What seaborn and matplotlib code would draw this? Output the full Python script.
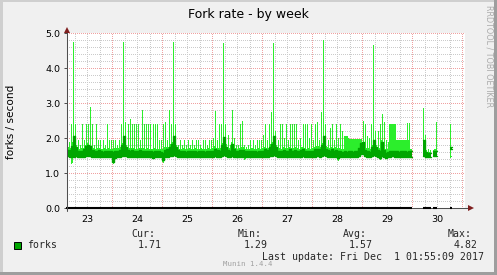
import numpy as np
import pandas as pd
import matplotlib
matplotlib.use("Agg")
import matplotlib.pyplot as plt
from matplotlib.patches import Rectangle
import seaborn as sns

sns.set_theme(style="white")
plt.rcParams["font.family"] = ["DejaVu Sans"]

N = float("nan")

# ---- data (hourly) ----
days = [23, 24, 25, 26, 27, 28, 29, 30]
first_hour = [2, 0, 0, 0, 0, 0, 0, 0]

# spike tops (max)
rate_max = [
    [2.40, 1.90, 2.40, 4.75, 2.40, 1.95, 1.80, 2.40, 1.95, 2.40, 2.40, 2.90, 2.40, 1.80, 2.40, 1.95, 1.95, 1.95, 1.80, 2.40, 1.95, 1.95],
    [1.95, 1.95, 1.80, 1.95, 2.40, 4.75, 2.45, 2.40, 2.55, 2.40, 2.40, 2.40, 2.40, 1.95, 2.80, 2.40, 2.40, 2.40, 2.40, 2.40, 2.40, 2.40, 1.95, 1.95],
    [2.40, 2.45, 1.95, 2.80, 2.40, 4.75, 2.40, 1.80, 1.95, 1.80, 1.95, 1.80, 1.95, 1.80, 1.95, 1.80, 1.95, 1.95, 1.80, 1.95, 1.95, 1.80, 1.95, 1.95],
    [2.00, 2.77, 1.95, 2.40, 2.40, 4.73, 2.40, 2.10, 1.80, 2.80, 2.00, 1.80, 1.80, 2.40, 2.50, 1.80, 1.75, 1.80, 1.95, 1.95, 1.80, 1.95, 1.95, 1.95],
    [2.10, 2.40, 1.95, 2.40, 2.75, 4.72, 2.20, 1.95, 2.40, 2.40, 2.00, 2.40, 1.95, 2.40, 2.40, 2.40, 2.40, 1.95, 2.00, 2.40, 2.40, 2.40, 2.00, 2.40],
    [1.95, 2.40, 2.45, 1.95, 2.75, 4.82, 2.40, 1.95, 2.30, 2.40, 1.95, 2.40, 2.00, 2.40, 2.20, 2.05, 2.05, 2.00, 1.97, 1.97, 1.97, 1.97, 1.97, 1.97],
    [2.50, 2.40, 2.05, 2.00, 2.40, 4.66, 2.20, 2.20, 2.40, 2.70, 2.45, 1.95, 1.90, 2.40, 2.40, 2.40, 1.95, 1.94, 1.94, 1.94, 1.94, 2.43, 2.43, 1.70],
    [N, N, N, N, N, 2.85, 2.10, 1.70, 1.65, N, 1.70, 2.45, N, N, N, N, N, N, 2.40, N],
]

# solid light-green envelope top
rate_env = [
    [1.75, 1.72, 1.90, 1.95, 1.80, 1.72, 1.70, 1.72, 1.72, 1.80, 1.85, 1.80, 1.72, 1.70, 1.72, 1.72, 1.70, 1.70, 1.72, 1.70, 1.72, 1.70],
    [1.70, 1.72, 1.72, 1.75, 1.85, 2.00, 1.80, 1.72, 1.72, 1.72, 1.72, 1.70, 1.70, 1.72, 1.72, 1.70, 1.72, 1.70, 1.70, 1.70, 1.72, 1.70, 1.70, 1.70],
    [1.70, 1.75, 1.75, 1.82, 1.88, 2.00, 1.80, 1.72, 1.70, 1.70, 1.72, 1.70, 1.70, 1.72, 1.70, 1.72, 1.70, 1.70, 1.72, 1.70, 1.70, 1.70, 1.72, 1.70],
    [1.72, 1.78, 1.72, 1.72, 1.85, 2.00, 1.82, 1.72, 1.72, 1.88, 1.75, 1.72, 1.70, 1.72, 1.75, 1.70, 1.70, 1.70, 1.72, 1.72, 1.70, 1.70, 1.72, 1.70],
    [1.72, 1.75, 1.72, 1.82, 1.88, 2.00, 1.80, 1.72, 1.72, 1.70, 1.75, 1.72, 1.72, 1.75, 1.72, 1.75, 1.72, 1.70, 1.75, 1.75, 1.72, 1.70, 1.72, 1.70],
    [1.72, 1.75, 1.78, 1.75, 1.85, 2.00, 1.78, 1.75, 1.72, 1.75, 1.72, 1.75, 1.72, 1.72, 1.70, 2.05, 2.05, 1.97, 1.97, 1.97, 1.97, 1.97, 1.97, 1.97],
    [1.85, 1.75, 1.72, 1.70, 1.80, 1.95, 1.80, 1.75, 1.72, 1.95, 1.75, 1.70, 1.70, 2.40, 2.40, 2.40, 1.94, 1.94, 1.94, 1.94, 1.94, 1.94, 1.94, 1.70],
    [N, N, N, N, N, 1.94, 1.65, 1.60, 1.60, N, 1.65, 1.70, N, N, N, N, N, N, 1.50, N],
]

# dark-green average band (top / bottom)
avg_hi = [
    [1.65, 1.66, 1.78, 2.06, 1.74, 1.63, 1.62, 1.64, 1.68, 1.77, 1.80, 1.77, 1.65, 1.62, 1.63, 1.65, 1.62, 1.61, 1.63, 1.62, 1.64, 1.62],
    [1.60, 1.62, 1.63, 1.67, 1.80, 2.06, 1.76, 1.65, 1.63, 1.67, 1.64, 1.63, 1.62, 1.65, 1.63, 1.62, 1.64, 1.63, 1.62, 1.61, 1.63, 1.62, 1.62, 1.61],
    [1.58, 1.65, 1.68, 1.76, 1.84, 2.06, 1.75, 1.65, 1.62, 1.62, 1.63, 1.61, 1.62, 1.63, 1.62, 1.63, 1.61, 1.62, 1.63, 1.62, 1.61, 1.62, 1.63, 1.62],
    [1.63, 1.70, 1.66, 1.64, 1.80, 2.04, 1.76, 1.66, 1.64, 1.84, 1.68, 1.63, 1.62, 1.65, 1.66, 1.63, 1.62, 1.62, 1.63, 1.64, 1.62, 1.61, 1.63, 1.62],
    [1.63, 1.68, 1.66, 1.76, 1.82, 2.05, 1.75, 1.64, 1.63, 1.62, 1.66, 1.64, 1.63, 1.68, 1.64, 1.66, 1.63, 1.62, 1.66, 1.68, 1.64, 1.62, 1.63, 1.62],
    [1.62, 1.68, 1.70, 1.68, 1.80, 2.06, 1.70, 1.66, 1.64, 1.68, 1.63, 1.66, 1.64, 1.63, 1.61, 1.62, 1.61, 1.62, 1.63, 1.61, 1.62, 1.64, 1.72, 1.85],
    [1.88, 1.66, 1.62, 1.61, 1.75, 1.95, 1.75, 1.66, 1.64, 1.90, 1.66, 1.58, 1.61, 1.62, 1.64, 1.62, 1.63, 1.61, 1.62, 1.64, 1.62, 1.61, 1.64, 1.62],
    [N, N, N, N, N, 1.94, 1.60, 1.58, 1.58, N, 1.62, 1.64, N, N, N, N, N, N, 1.75, N],
]
avg_lo = [
    [1.48, 1.46, 1.45, 1.47, 1.48, 1.47, 1.46, 1.45, 1.47, 1.48, 1.50, 1.48, 1.47, 1.46, 1.45, 1.47, 1.46, 1.45, 1.46, 1.47, 1.46, 1.45],
    [1.33, 1.44, 1.46, 1.47, 1.48, 1.50, 1.48, 1.46, 1.45, 1.47, 1.46, 1.45, 1.46, 1.47, 1.45, 1.46, 1.45, 1.46, 1.45, 1.44, 1.46, 1.45, 1.46, 1.45],
    [1.38, 1.46, 1.47, 1.48, 1.50, 1.52, 1.48, 1.46, 1.45, 1.46, 1.45, 1.46, 1.45, 1.46, 1.45, 1.46, 1.45, 1.46, 1.45, 1.46, 1.45, 1.45, 1.46, 1.45],
    [1.46, 1.48, 1.47, 1.46, 1.50, 1.52, 1.48, 1.46, 1.46, 1.50, 1.47, 1.46, 1.45, 1.46, 1.47, 1.46, 1.45, 1.46, 1.45, 1.46, 1.45, 1.45, 1.46, 1.45],
    [1.46, 1.47, 1.46, 1.48, 1.50, 1.52, 1.48, 1.46, 1.46, 1.45, 1.47, 1.46, 1.45, 1.47, 1.46, 1.47, 1.46, 1.45, 1.47, 1.48, 1.46, 1.45, 1.46, 1.45],
    [1.45, 1.47, 1.48, 1.47, 1.50, 1.52, 1.48, 1.47, 1.46, 1.47, 1.45, 1.47, 1.42, 1.46, 1.45, 1.46, 1.45, 1.46, 1.47, 1.45, 1.46, 1.47, 1.50, 1.55],
    [1.55, 1.48, 1.46, 1.45, 1.48, 1.52, 1.50, 1.47, 1.44, 1.50, 1.47, 1.44, 1.46, 1.47, 1.48, 1.46, 1.47, 1.45, 1.46, 1.47, 1.46, 1.45, 1.47, 1.46],
    [N, N, N, N, N, 1.50, 1.47, 1.46, 1.46, N, 1.48, 1.50, N, N, N, N, N, N, 1.69, N],
]

# light-green dips below the band (minimum)
dip_day = [23, 24, 25, 26, 28, 29, 30, 30]
dip_hour = [4, 0, 0, 15, 12, 8, 7, 18]
dip_value = [1.29, 1.30, 1.31, 1.40, 1.38, 1.40, 1.45, 1.47]

day_labels = ["23", "24", "25", "26", "27", "28", "29", "30"]
y_ticks = [0, 1, 2, 3, 4, 5]

title = "Fork rate - by week"
y_label = "forks / second"
legend_name = "forks"
stat_names = ["Cur:", "Min:", "Avg:", "Max:"]
stat_values = ["1.71", "1.29", "1.57", "4.82"]
last_update = "Last update: Fri Dec  1 01:55:09 2017"

# ---- build table ----
rows = []
for i, d in enumerate(days):
    for j in range(len(rate_max[i])):
        rows.append(dict(day=d, hour=first_hour[i] + j, mx=rate_max[i][j],
                         env=rate_env[i][j], hi=avg_hi[i][j], lo=avg_lo[i][j]))
df = pd.DataFrame(rows)
df["bottom"] = df["lo"]
for d, h, v in zip(dip_day, dip_hour, dip_value):
    m = (df.day == d) & (df.hour == h)
    df.loc[m, "bottom"] = np.minimum(df.loc[m, "lo"], v)
df = df.dropna(subset=["mx"]).reset_index(drop=True)
df["idx"] = (df.day - 23) * 24 + df.hour
df["t"] = df.day + df.hour / 24.0
df["run"] = (df.idx.diff() != 1).cumsum()

# ---- figure ----
W, H = 497, 275
fig = plt.figure(figsize=(W / 100, H / 100), dpi=100)
fig.patch.set_facecolor("#F0F0F0")
L, R, T, B = 67, 465, 33.3, 208
ax = fig.add_axes([L / W, 1 - B / H, (R - L) / W, (B - T) / H])
ax.set_facecolor("white")
x0 = 23 + (L - 62.3) / 50
x1 = 23 + (R - 62.3) / 50
ax.set_xlim(x0, x1)
ax.set_ylim(0, 5)
for s in ax.spines.values():
    s.set_visible(False)

GRID = "#CBCBCB"
MGRID = "#F0A1A1"
ds = (0, (1, 2))
for g in np.arange(23.25, x1, 0.25):
    major = abs(g - round(g)) < 1e-6
    ax.axvline(g, color=MGRID if major else GRID, lw=0.72, ls=ds,
               zorder=1, antialiased=False)
for g in np.arange(0.2, 5.01, 0.2):
    major = abs(g - round(g)) < 1e-6
    ax.axhline(g, color=MGRID if major else GRID, lw=0.72, ls=ds,
               zorder=1, antialiased=False)

BRIGHT = "#2CEE2C"
DARK = "#00A600"
step = 1 / 24.0
for _, sub in df.groupby("run"):
    edges = list(sub.t) + [sub.t.iloc[-1] + step]
    ext = lambda c: list(sub[c]) + [sub[c].iloc[-1]]
    ax.fill_between(edges, ext("bottom"), ext("env"), step="post",
                    color=BRIGHT, lw=0, zorder=3, antialiased=False)
    ax.vlines(sub.t + step * 0.3, sub.bottom, sub.mx, color=BRIGHT,
              lw=0.7, zorder=3, antialiased=False)
    ax.fill_between(edges, ext("lo"), ext("hi"), step="post",
                    color=DARK, lw=0, zorder=4, antialiased=False)
    for c in ("hi", "lo"):
        sns.lineplot(x=edges, y=ext(c), drawstyle="steps-post", color=DARK,
                     lw=1.0, ax=ax, estimator=None, sort=False, legend=False,
                     zorder=4)
    ax.plot([edges[0], edges[-1]], [0, 0], color="black", lw=1.5,
            solid_capstyle="butt", zorder=6, clip_on=False)

AXIS = "#4F4F4F"
ARROW = "#7F1F1F"
ax.plot([0, 0], [-0.017, 1.012], transform=ax.transAxes, color=AXIS,
        lw=0.75, clip_on=False, zorder=7)
ax.plot([0, 1.012], [0, 0], transform=ax.transAxes, color=AXIS,
        lw=0.75, clip_on=False, zorder=5)
ax.plot([0], [1 + 3.8 / (B - T)], marker="^", ms=4.2, color=ARROW,
        transform=ax.transAxes, clip_on=False, zorder=8, mew=0)
ax.plot([(471 - L) / (R - L)], [0], marker=">", ms=4.2, color=ARROW,
        transform=ax.transAxes, clip_on=False, zorder=8, mew=0)

ax.set_yticks(y_ticks)
ax.set_yticklabels([f"{v:.1f}" for v in y_ticks])
ax.set_xticks([d + 0.5 for d in days])
ax.set_xticklabels(day_labels)
ax.tick_params(axis="y", direction="out", length=2.2, width=0.72,
               color=AXIS, labelsize=6.8, pad=2.6, labelcolor="black", left=True)
ax.tick_params(axis="x", length=0, labelsize=6.8, pad=5.2, labelcolor="black")
ax.set_xlabel("")
ax.set_ylabel("")

def fy(y):
    return 1 - y / H

fig.text(248 / W, fy(18), title, ha="center", va="baseline", fontsize=9,
         color="black")
fig.text(11.5 / W, fy(122), y_label, ha="center", va="center", rotation=90,
         fontsize=7.6, color="black")
fig.text(489.5 / W, fy(56.5), "RRDTOOL / TOBI OETIKER", ha="center",
         va="center", rotation=270, fontsize=5.8, color="#ABABAB")

mono = "DejaVu Sans Mono"
fig.patches.append(Rectangle((13.5 / W, fy(249)), 7 / W, 7 / H,
                             transform=fig.transFigure, fc=DARK, ec="black",
                             lw=0.7))
fig.text(27 / W, fy(248.5), legend_name, ha="left", va="baseline",
         fontsize=7.1, family=mono)
for name, val, xh, xv in zip(stat_names, stat_values,
                             [131.5, 237.5, 343.0, 448.0],
                             [137.5, 243.5, 348.5, 453.5]):
    fig.text(xh / W, fy(237), name, ha="left", va="baseline", fontsize=7.1,
             family=mono)
    fig.text(xv / W, fy(248.5), val, ha="left", va="baseline", fontsize=7.1,
             family=mono)
fig.text(261.5 / W, fy(260.5), last_update, ha="left", va="baseline",
         fontsize=7.1, family=mono)
fig.text(248 / W, fy(266), "Munin 1.4.4", ha="center", va="baseline",
         fontsize=5.3, family=mono, color="#A0A0A0")

# frame shading
fig.patches.append(Rectangle((0, 0), 2.5 / W, 1, transform=fig.transFigure,
                             fc="#CFCFCF", lw=0))
fig.patches.append(Rectangle((0, 1 - 2 / H), 1, 2 / H,
                             transform=fig.transFigure, fc="#CFCFCF", lw=0))
fig.patches.append(Rectangle((1 - 3 / W, 0), 3 / W, 1,
                             transform=fig.transFigure, fc="#9E9E9E", lw=0))
fig.patches.append(Rectangle((0, 0), 1, 3 / H, transform=fig.transFigure,
                             fc="#9E9E9E", lw=0))

fig.savefig("out.png", dpi=100, facecolor=fig.get_facecolor())
